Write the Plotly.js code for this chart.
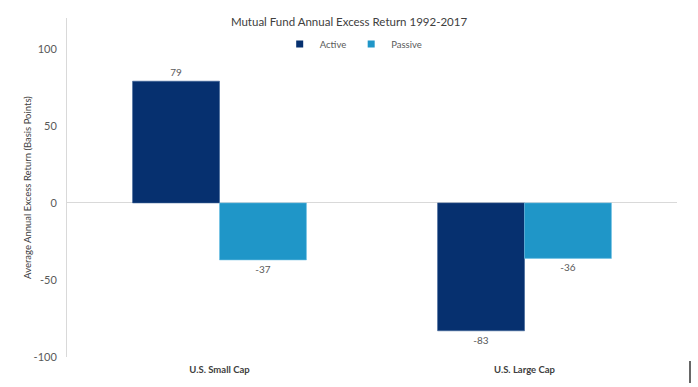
<!DOCTYPE html>
<html>
<head>
<meta charset="utf-8">
<script src="https://cdn.plot.ly/plotly-3.0.1.min.js"></script>
<style>html,body{margin:0;padding:0;background:#fff;}#chart{width:698px;height:387px;}</style>
</head>
<body>
<div id="chart"></div>
<script>
const categories = ["U.S. Small Cap", "U.S. Large Cap"];
const activeValues = [79, -83];
const passiveValues = [-37, -36];
const seriesNames = ["Active", "Passive"];
const seriesColors = ["#06306f", "#1f96c8"];
const yTicks = [-100, -50, 0, 50, 100];

const fontFam = "Lato, 'Open Sans', sans-serif";
const traces = [
  {type: 'bar', name: seriesNames[0], x: categories, y: activeValues, showlegend: false,
   marker: {color: seriesColors[0], line: {color: '#3a5f95', width: 0.6}},
   text: activeValues.map(String), textposition: 'outside', cliponaxis: false,
   textfont: {family: fontFam, size: 10, color: '#595959'}, hoverinfo: 'none'},
  {type: 'bar', name: seriesNames[1], x: categories, y: passiveValues, showlegend: false,
   marker: {color: seriesColors[1], line: {color: '#6cc0e4', width: 0.6}},
   text: passiveValues.map(String), textposition: 'outside', cliponaxis: false,
   textfont: {family: fontFam, size: 10, color: '#595959'}, hoverinfo: 'none'},
  {type: 'scatter', mode: 'markers', name: seriesNames[0], x: [null], y: [null],
   marker: {symbol: 'square', size: 7, color: seriesColors[0]}, hoverinfo: 'none'},
  {type: 'scatter', mode: 'markers', name: seriesNames[1], x: [null], y: [null],
   marker: {symbol: 'square', size: 7, color: seriesColors[1]}, hoverinfo: 'none'}
];

const layout = {
  width: 698, height: 387,
  margin: {l: 67, r: 21, t: 18, b: 30},
  paper_bgcolor: '#fff', plot_bgcolor: '#fff',
  font: {family: fontFam, color: '#595959'},
  title: {text: 'Mutual Fund Annual Excess Return 1992-2017', x: 0.5, xanchor: 'center',
          y: 1 - 22/387, yanchor: 'middle', yref: 'container',
          font: {family: fontFam, size: 11.5, color: '#404040'}},
  barmode: 'group', bargap: 0.43, bargroupgap: 0,
  showlegend: true,
  legend: {orientation: 'h', x: 0.47, xanchor: 'center', y: 0.923, yanchor: 'middle',
           font: {family: fontFam, size: 9.5, color: '#595959'}, itemwidth: 30,
           itemsizing: 'trace', bgcolor: 'rgba(0,0,0,0)', traceorder: 'normal'},
  xaxis: {type: 'category', showgrid: false, zeroline: false, showline: false,
          ticks: '', tickfont: {family: fontFam, size: 9.5, color: '#404040', weight: 'bold'},
          ticklabelstandoff: 5},
  yaxis: {range: [-100, 120], tickvals: yTicks, ticktext: yTicks.map(String),
          showgrid: false, zeroline: true, zerolinecolor: '#d9d9d9', zerolinewidth: 1,
          showline: true, linecolor: '#d9d9d9', linewidth: 1, ticks: '',
          ticklabelstandoff: 7,
          tickfont: {family: fontFam, size: 11, color: '#595959'},
          title: {text: 'Average Annual Excess Return (Basis Points)', standoff: 0,
                  font: {family: fontFam, size: 9.5, color: '#404040'}}},
  shapes: [{type: 'line', xref: 'paper', yref: 'paper', x0: (690-67)/610, x1: (690-67)/610,
            y0: (357-361)/339, y1: (357-383)/339, line: {color: '#000', width: 1.2}}]
};
Plotly.newPlot('chart', traces, layout, {displayModeBar: false, staticPlot: true});
</script>
</body>
</html>
